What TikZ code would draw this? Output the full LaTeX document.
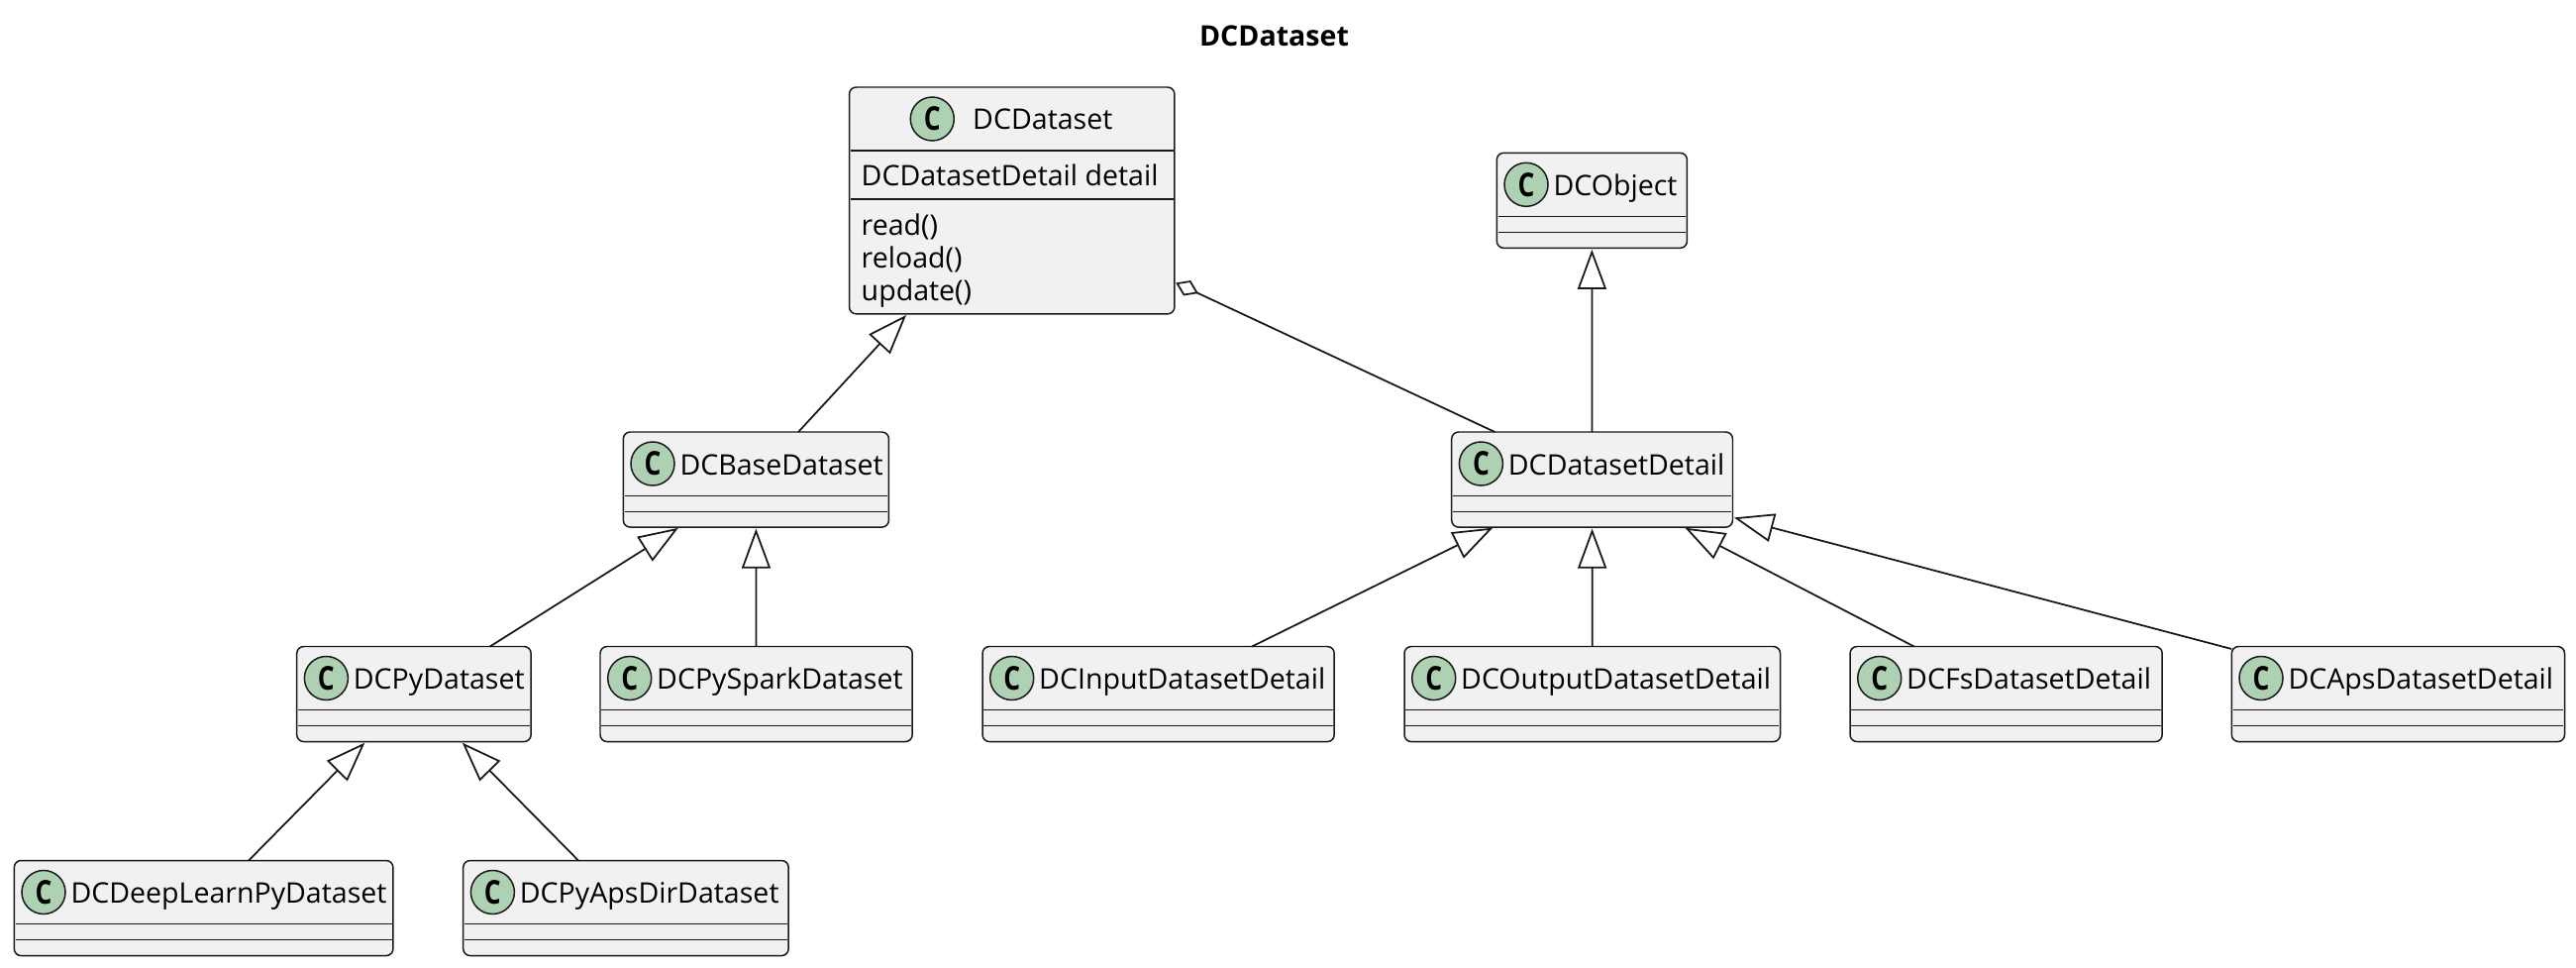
\documentclass[tikz,border=0pt]{standalone}
\usepackage{fontspec}
\setmainfont{Open Sans}
\usetikzlibrary{arrows.meta,calc}
\definecolor{boxfill}{HTML}{F1F1F1}
\definecolor{linecol}{HTML}{181818}
\definecolor{iconfill}{HTML}{ADD1B2}
\tikzset{
	sepline/.style={draw=linecol, line width=0.3pt},
	classbox/.style={draw=linecol, fill=boxfill, line width=0.42pt, rounded corners=0.07cm, rectangle, anchor=north west, minimum height=0.96cm, inner sep=0pt, outer sep=0pt,
		path picture={\draw[sepline] ([xshift=0.013cm,yshift=-0.64cm]path picture bounding box.north west) -- ([xshift=-0.013cm,yshift=-0.64cm]path picture bounding box.north east);
			\draw[sepline] ([xshift=0.013cm,yshift=-0.80cm]path picture bounding box.north west) -- ([xshift=-0.013cm,yshift=-0.80cm]path picture bounding box.north east);}},
	bigbox/.style={draw=linecol, fill=boxfill, line width=0.42pt, rounded corners=0.07cm, rectangle, anchor=north west, inner sep=0pt, outer sep=0pt},
	classicon/.style={draw=linecol, fill=iconfill, circle, line width=0.42pt, minimum size=0.44cm, inner sep=0pt, font=\fontsize{9.4pt}{9.4pt}\bfseries},
	classname/.style={anchor=base west, inner sep=0pt, font=\fontsize{8.12pt}{9pt}\selectfont},
	inherit/.style={draw=linecol, line width=0.5pt, -{Triangle[open, length=0.40cm, width=0.29cm]}, shorten >=0.015cm},
	aggregate/.style={draw=linecol, line width=0.5pt, -{Diamond[open, length=0.25cm, width=0.17cm]}, shorten >=0.015cm},
}
\newcommand{\iconC}{\scalebox{0.8}[1]{C}}
\begin{document}
\begin{tikzpicture}[x=0.01cm, y=-0.01cm]
	\useasboundingbox (0,0) rectangle (2601,976);

	\node[anchor=base, inner sep=0pt, font=\fontsize{8.12pt}{9pt}\bfseries] (title) at (1286.5,47) {DCDataset};

	% Top class with members
	\node[bigbox, minimum width=3.282cm, minimum height=2.287cm] (dataset) at (857.5,88) {};
	\node[classicon] (dataseticon) at ($(dataset.north west)+(83.8,32)$) {\iconC};
	\node[classname] (datasetname) at ($(dataset.north west)+(124,43)$) {DCDataset};
	\draw[sepline] ($(dataset.north west)+(1.3,64)$) -- ($(dataset.north east)+(-1.3,64)$);
	\draw[sepline] ($(dataset.north west)+(1.3,113)$) -- ($(dataset.north east)+(-1.3,113)$);
	\node[classname] (datasetfield) at ($(dataset.north west)+(11.5,100)$) {DCDatasetDetail detail};
	\node[classname] (datasetread) at ($(dataset.north west)+(11.5,149)$) {read()};
	\node[classname] (datasetreload) at ($(dataset.north west)+(11.5,182)$) {reload()};
	\node[classname] (datasetupdate) at ($(dataset.north west)+(11.5,215)$) {update()};

	% Base classes
	\node[classbox, minimum width=1.92cm] (object) at (1511.3,154.3) {};
	\node[classicon] (objecticon) at ($(object.north west)+(29.7,32)$) {\iconC};
	\node[classname] (objectname) at ($(object.north west)+(56.5,43)$) {DCObject};

	\node[classbox, minimum width=2.68cm] (base) at (629.3,436) {};
	\node[classicon] (baseicon) at ($(base.north west)+(29.7,32)$) {\iconC};
	\node[classname] (basename) at ($(base.north west)+(56.5,43)$) {DCBaseDataset};

	\node[classbox, minimum width=2.836cm] (detail) at (1465.7,436) {};
	\node[classicon] (detailicon) at ($(detail.north west)+(29.7,32)$) {\iconC};
	\node[classname] (detailname) at ($(detail.north west)+(56.5,43)$) {DCDatasetDetail};

	% Third row
	\node[classbox, minimum width=2.363cm] (py) at (299.7,652.5) {};
	\node[classicon] (pyicon) at ($(py.north west)+(29.7,32)$) {\iconC};
	\node[classname] (pyname) at ($(py.north west)+(56.5,43)$) {DCPyDataset};

	\node[classbox, minimum width=3.15cm] (spark) at (606,652.5) {};
	\node[classicon] (sparkicon) at ($(spark.north west)+(29.7,32)$) {\iconC};
	\node[classname] (sparkname) at ($(spark.north west)+(56.5,43)$) {DCPySparkDataset};

	\node[classbox, minimum width=3.55cm] (input) at (992,652.5) {};
	\node[classicon] (inputicon) at ($(input.north west)+(29.7,32)$) {\iconC};
	\node[classname] (inputname) at ($(input.north west)+(56.5,43)$) {DCInputDatasetDetail};

	\node[classbox, minimum width=3.793cm] (output) at (1418,652.5) {};
	\node[classicon] (outputicon) at ($(output.north west)+(29.7,32)$) {\iconC};
	\node[classname] (outputname) at ($(output.north west)+(56.5,43)$) {DCOutputDatasetDetail};

	\node[classbox, minimum width=3.15cm] (fs) at (1868,652.5) {};
	\node[classicon] (fsicon) at ($(fs.north west)+(29.7,32)$) {\iconC};
	\node[classname] (fsname) at ($(fs.north west)+(56.5,43)$) {DCFsDatasetDetail};

	\node[classbox, minimum width=3.36cm] (aps) at (2253.3,652.5) {};
	\node[classicon] (apsicon) at ($(aps.north west)+(29.7,32)$) {\iconC};
	\node[classname] (apsname) at ($(aps.north west)+(56.5,43)$) {DCApsDatasetDetail};

	% Bottom row
	\node[classbox, minimum width=3.824cm] (deep) at (14.3,868.5) {};
	\node[classicon] (deepicon) at ($(deep.north west)+(29.7,32)$) {\iconC};
	\node[classname] (deepname) at ($(deep.north west)+(56.5,43)$) {DCDeepLearnPyDataset};

	\node[classbox, minimum width=3.283cm] (apsdir) at (467.7,868.5) {};
	\node[classicon] (apsdiricon) at ($(apsdir.north west)+(29.7,32)$) {\iconC};
	\node[classname] (apsdirname) at ($(apsdir.north west)+(56.5,43)$) {DCPyApsDirDataset};

	% Connectors
	\draw[inherit] ($(base.north)+(42.7,0)$) -- ($(dataset.south)+(-105.6,0)$);
	\draw[aggregate] ($(detail.north)+(-98.2,0)$) -- ($(dataset.south east)+(0,-32)$);
	\draw[inherit] (detail.north) -- (object.south);
	\draw[inherit] ($(py.north)+(76.8,0)$) -- ($(base.south)+(-77.3,0)$);
	\draw[inherit] (spark.north) -- (base.south);
	\draw[inherit] ($(input.north)+(94.5,0)$) -- ($(detail.south)+(-99,0)$);
	\draw[inherit] (output.north) -- (detail.south);
	\draw[inherit] ($(fs.north)+(-93,0)$) -- ($(detail.south)+(92.5,0)$);
	\draw[inherit] ($(aps.north west)+(0,2.5)$) -- ($(detail.south east)+(0,-10)$);
	\draw[inherit] ($(deep.north)+(45.5,0)$) -- ($(py.south)+(-48.5,0)$);
	\draw[inherit] ($(apsdir.north)+(-48,0)$) -- ($(py.south)+(47.8,0)$);
\end{tikzpicture}
\end{document}
